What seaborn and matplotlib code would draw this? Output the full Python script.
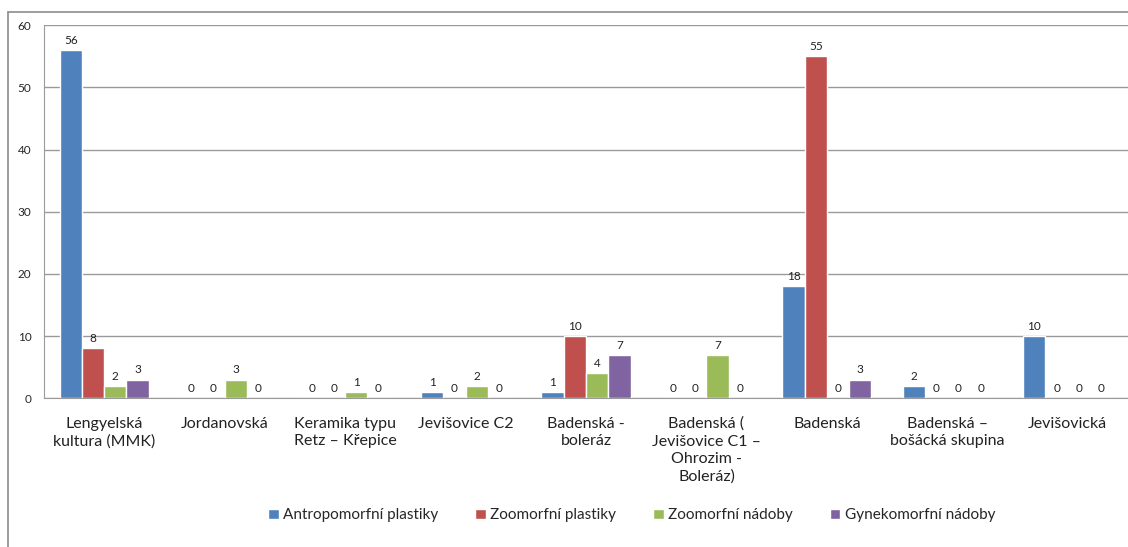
import pandas as pd
import matplotlib.pyplot as plt
import seaborn as sns
from matplotlib.lines import Line2D

# Data
cultures = ['Lengyelská\nkultura (MMK)', 'Jordanovská', 'Keramika typu\nRetz – Křepice',
            'Jevišovice C2', 'Badenská -\nboleráz',
            'Badenská (\nJevišovice C1 –\nOhrozim -\nBoleráz)', 'Badenská',
            'Badenská –\nbošácká skupina', 'Jevišovická']
series = ['Antropomorfní plastiky', 'Zoomorfní plastiky', 'Zoomorfní nádoby',
          'Gynekomorfní nádoby']
antropo = [56, 0, 0, 1, 1, 0, 18, 2, 10]
zoo_plast = [8, 0, 0, 0, 10, 0, 55, 0, 0]
zoo_nad = [2, 3, 1, 2, 4, 7, 0, 0, 0]
gyneko = [3, 0, 0, 0, 7, 0, 3, 0, 0]
colors = ['#4F81BD', '#C0504D', '#9BBB59', '#8064A2']

rows = []
for name, vals in zip(series, [antropo, zoo_plast, zoo_nad, gyneko]):
    for cult, v in zip(cultures, vals):
        rows.append({'kultura': cult, 'typ': name, 'pocet': v})
df = pd.DataFrame(rows)

sns.set_style('white')
plt.rcParams['font.family'] = ['Lato', 'DejaVu Sans']

fig = plt.figure(figsize=(11.28, 5.47), dpi=100)
ax = fig.add_axes([0.039, 0.272, 0.961, 0.682])

sns.barplot(data=df, x='kultura', y='pocet', hue='typ', palette=colors,
            width=0.74, saturation=1, ax=ax, legend=True)

for cont in ax.containers:
    ax.bar_label(cont, fmt='%d', padding=3, fontsize=8.5, color='#222222')

ax.set_ylim(0, 60)
ax.set_yticks(range(0, 61, 10))
ax.set_xlim(-0.5, len(cultures) - 0.5)
ax.grid(axis='y', color='#9a9a9a', linewidth=1)
ax.set_axisbelow(True)
ax.set_xlabel('')
ax.set_ylabel('')
for s in ['top', 'right']:
    ax.spines[s].set_visible(False)
for s in ['left', 'bottom']:
    ax.spines[s].set_color('#9a9a9a')
ax.tick_params(axis='y', length=5, color='#9a9a9a', labelsize=8.5, pad=4)

# category labels between tick marks
ax.set_xticks([i + 0.5 for i in range(len(cultures) - 1)], minor=False)
ax.set_xticklabels([])
ax.tick_params(axis='x', length=5, color='#9a9a9a', direction='out')
for i, c in enumerate(cultures):
    ax.text(i, -3.0, c, ha='center', va='top', fontsize=11.5,
            color='#222222', linespacing=1.3)

handles, labels = ax.get_legend_handles_labels()
ax.legend_.remove()
fig.legend(handles, labels, loc='center', bbox_to_anchor=(0.56, 0.058),
           ncol=4, frameon=False, fontsize=11, handlelength=0.7,
           handleheight=0.7, handletextpad=0.3, columnspacing=2.4)

# outer chart border (only top and left visible)
fig.add_artist(Line2D([8 / 1128, 1], [1 - 12 / 547] * 2, color='#8c8c8c',
                      linewidth=1.2, transform=fig.transFigure))
fig.add_artist(Line2D([8 / 1128] * 2, [1 - 12 / 547, 0], color='#8c8c8c',
                      linewidth=1.2, transform=fig.transFigure))

plt.savefig('out.png')
